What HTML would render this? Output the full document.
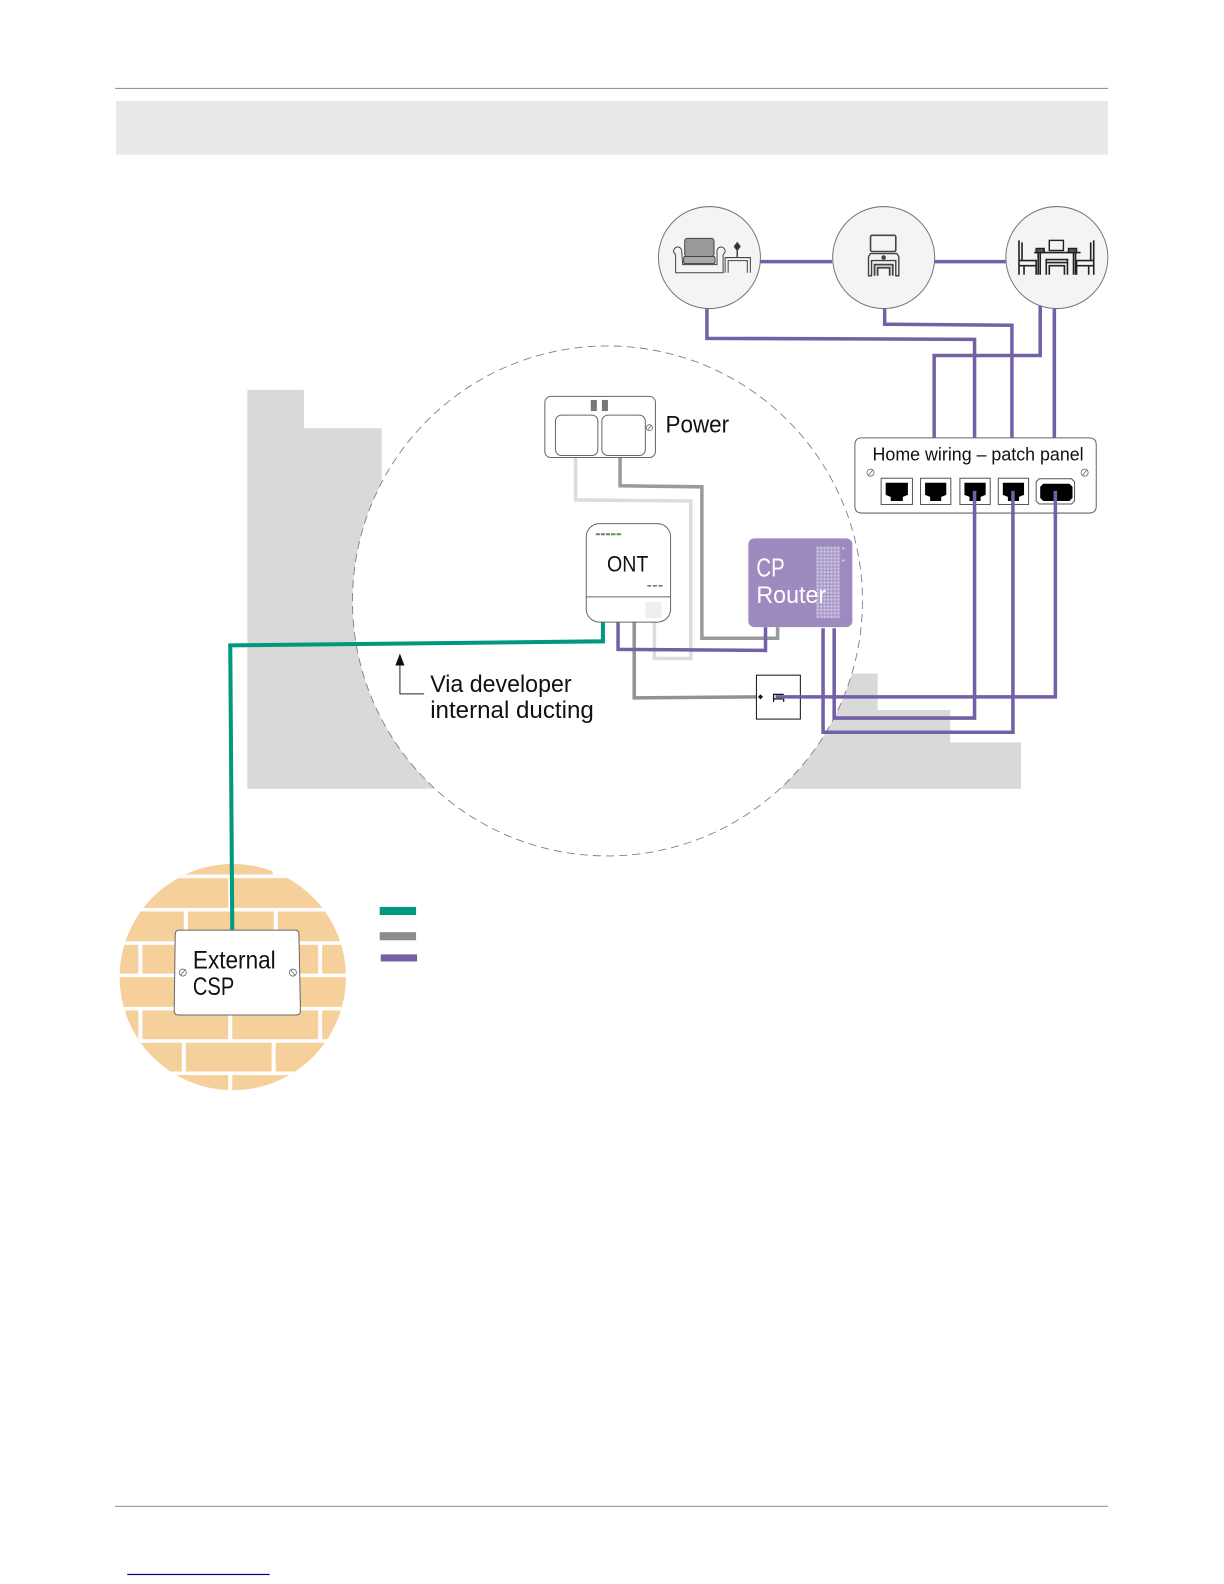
<!DOCTYPE html>
<html><head><meta charset="utf-8"><style>html,body{margin:0;padding:0;background:#fff}svg{display:block}text{font-family:"Liberation Sans",sans-serif;fill:#111}</style></head>
<body>
<svg width="1224" height="1584" viewBox="0 0 1212 1568.4" xmlns="http://www.w3.org/2000/svg">
<defs>
<clipPath id="b"><circle cx="230.5" cy="967.5" r="112"/></clipPath>
<pattern id="dots" x="808" y="541" width="3.4" height="3.4" patternUnits="userSpaceOnUse"><rect width="3.4" height="3.4" fill="#a899c9"/><circle cx="1.7" cy="1.7" r="1.2" fill="#cfc6e2"/></pattern>
</defs>
<rect width="1224" height="1584" fill="#fff"/>
<rect x="114" y="87" width="983" height="1" fill="#8a8a8a"/>
<rect x="115" y="100" width="982" height="53" fill="#e8e8e8"/>
<rect x="114" y="1491" width="983" height="1" fill="#8a8a8a"/>
<rect x="126" y="1558.4" width="141" height="1.2" fill="#000080"/>

<!-- building -->
<path d="M245 386H301V424H378V560H700V667H869V703H941V735H1011V781H245Z" fill="#d9d9d9"/>
<circle cx="601.5" cy="595" r="252.5" fill="#fff" stroke="#808080" stroke-width=".9" stroke-dasharray="8 5"/>

<!-- bricks -->
<g clip-path="url(#b)">
<rect x="115" y="850" width="232" height="235" fill="#f6d09a"/>
<g fill="#fff">
<rect x="115" y="866" width="232" height="3.5"/><rect x="115" y="899" width="232" height="3.5"/><rect x="115" y="932" width="232" height="3.5"/><rect x="115" y="964" width="232" height="3.5"/><rect x="115" y="997" width="232" height="3.5"/><rect x="115" y="1029" width="232" height="3.5"/><rect x="115" y="1061" width="232" height="3.5"/>
<rect x="226" y="867" width="4" height="33"/>
<rect x="182" y="900" width="4" height="33"/><rect x="271" y="900" width="4" height="33"/>
<rect x="137" y="933" width="4" height="32"/><rect x="315" y="933" width="4" height="32"/>
<rect x="137" y="998" width="4" height="32"/><rect x="226" y="998" width="4" height="32"/><rect x="315" y="998" width="4" height="32"/>
<rect x="180" y="1030" width="4" height="32"/><rect x="269" y="1030" width="4" height="32"/>
<rect x="226" y="1062" width="4" height="25"/>
<rect x="270" y="860" width="50" height="8"/>
</g>
</g>

<!-- cables -->
<g fill="none" stroke-width="3.5">
<path d="M570 453V495L684 496V652H648V616" stroke="#dcdcdc"/>
<path d="M614 453V481L695 482V632H770V621" stroke="#9a9a9a"/>
<path d="M628 616V691L749 690" stroke="#929292"/>
<path d="M612 616V643L758 644V621" stroke="#7460a6"/>
<path d="M597 616V635L228 639L230 921" stroke="#00997f" stroke-width="4"/>
<g stroke="#7460a6">
<path d="M752 259H824M925 259H996"/>
<path d="M700 305V335L965 336V433"/>
<path d="M876 305V321L1002 322V433"/>
<path d="M1030 303V352H925V433"/>
<path d="M1044 305V433"/>
<path d="M965 508V711H826V622"/>
<path d="M1003 508V725H815V622"/>
<path d="M1045 508V690H765"/>
</g>
</g>

<!-- arrow -->
<path d="M396 656V687H420" fill="none" stroke="#222" stroke-width="1"/>
<path d="M396 647L391.5 659H400.5Z" fill="#111"/>
<text x="426" y="685" font-size="24" textLength="140" lengthAdjust="spacingAndGlyphs">Via developer</text>
<text x="426" y="711" font-size="24" textLength="162" lengthAdjust="spacingAndGlyphs">internal ducting</text>

<!-- room circles -->
<g fill="#f4f4f4" stroke="#777" stroke-width="1">
<circle cx="702.5" cy="255" r="50.5"/><circle cx="875" cy="255" r="50.5"/><circle cx="1046.5" cy="255" r="50.5"/>
</g>
<!-- sofa -->
<g fill="none" stroke="#444" stroke-width="1">
<rect x="678" y="236" width="29" height="18" rx="2.5" fill="#999"/>
<rect x="677" y="254" width="31" height="7" rx="1.5" fill="#aaa"/>
<path d="M675 249a4 4 0 1 0-6 3V270H716V252a4 4 0 1 0-6-3V262H676Z" fill="#f4f4f4"/>
<path d="M718 270V255H743V270M721 270V258H740V270"/>
<path d="M730 255V248" stroke-width="1.5"/>
<path d="M730 240L733 244L730 248L727 244Z" fill="#333"/>
</g>
<!-- tv -->
<g fill="none" stroke="#444" stroke-width="1.4">
<rect x="862" y="233" width="25" height="16" rx="1.5" stroke-width="1.6"/>
<path d="M860 273V254L862 251H888L890 254V273H887V258H863V273Z"/>
<path d="M866 273V262H884V273M869 273V265H881V273" stroke-width="1.8"/>
<circle cx="875" cy="255" r="1.6" fill="#444"/>
</g>
<!-- dining -->
<g fill="none" stroke="#222" stroke-width="1.4">
<path d="M1009 238V272M1012 240V258M1009 258H1026V272M1014 272V263H1024M1009 263H1026" stroke-width="1.6"/>
<path d="M1083 238V272M1080 240V258M1083 258H1066V272M1078 272V263H1068M1083 263H1066" stroke-width="1.6"/>
<path d="M1024 250H1070M1028 250V272M1030 250V272M1063 250V272M1065 250V272" stroke-width="1.6"/>
<rect x="1039" y="238" width="14" height="10"/>
<path d="M1036 272V257H1057V272M1039 272V263H1054V272M1036 260H1057" stroke-width="1.6"/>
<rect x="1026" y="246" width="8" height="4" fill="#555"/><rect x="1058" y="246" width="8" height="4" fill="#555"/>
</g>

<!-- panel -->
<path d="M853.5 433.5H1078.5Q1085.5 433.5 1085.5 440.5V501Q1085.5 508 1078.5 508H853.5Q846.5 508 846.5 501V440.5Q846.5 433.5 853.5 433.5Z" fill="none" stroke="#666"/>
<text x="864" y="456" font-size="18.5" textLength="209" lengthAdjust="spacingAndGlyphs">Home wiring – patch panel</text>
<g fill="none" stroke="#666" stroke-width=".8">
<circle cx="862" cy="468" r="3.5"/><path d="M860 470.5L864 465.5"/>
<circle cx="1074" cy="468" r="3.5"/><path d="M1072 470.5L1076 465.5"/>
</g>
<g fill="#fff" stroke="#555" stroke-width="1">
<rect x="872.5" y="473.5" width="31" height="26"/><rect x="911.5" y="473.5" width="30" height="26"/><rect x="950.5" y="473.5" width="30" height="26"/><rect x="988.5" y="473.5" width="30" height="26"/>
<path d="M1029 474H1061L1064 477V496L1061 499H1029L1026 496V477Z"/>
</g>
<g fill="#000">
<path d="M877 478H899V490L894 492V496H882V492L877 490Z"/>
<path d="M916 478H937V490L932 492V496H921V492L916 490Z"/>
<path d="M955 478H976V490L971 492V496H960V492L955 490Z"/>
<path d="M993 478H1014V490L1009 492V496H998V492L993 490Z"/>
<path d="M1033 479H1059L1062 482V493L1059 496H1033L1030 493V482Z"/>
</g>
<path d="M965 486V509M1003 486V509M1045 486V509" stroke="#7460a6" stroke-width="3.5"/>

<!-- power -->
<rect x="539.5" y="392.5" width="109.5" height="60.5" rx="6" fill="#fff" stroke="#666"/>
<rect x="550" y="411" width="42" height="40" rx="6" fill="#fff" stroke="#666"/>
<rect x="596" y="411" width="43" height="40" rx="6" fill="#fff" stroke="#666"/>
<rect x="585" y="396" width="6" height="11" fill="#777"/><rect x="596" y="396" width="6" height="11" fill="#777"/>
<circle cx="643" cy="423.5" r="3" fill="none" stroke="#666" stroke-width=".8"/><path d="M641.5 425.5L644.5 421.5" stroke="#666" stroke-width=".8"/>
<text x="659" y="428" font-size="24" textLength="63" lengthAdjust="spacingAndGlyphs">Power</text>

<!-- ONT -->
<rect x="580.5" y="518.5" width="83.5" height="97.5" rx="13" fill="#fff" stroke="#666"/>
<path d="M581 591H664" stroke="#666"/>
<rect x="639" y="596" width="16" height="16" rx="1" fill="#eeeeee"/>
<path d="M590 529H605" stroke="#777" stroke-width="2" stroke-dasharray="4 1"/>
<path d="M605 529H616" stroke="#4a9e3a" stroke-width="2" stroke-dasharray="4.5 1"/>
<path d="M641 580H656" stroke="#777" stroke-width="1.6" stroke-dasharray="4 1.5"/>
<text x="601" y="566" font-size="22" textLength="41" lengthAdjust="spacingAndGlyphs">ONT</text>

<!-- router -->
<rect x="741" y="533" width="103" height="88" rx="6" fill="#9d8bc0"/>
<rect x="808" y="541" width="24" height="71" fill="url(#dots)"/>
<circle cx="835" cy="543" r="1.1" fill="#ddd6ea"/><circle cx="835" cy="555" r="1.1" fill="#ddd6ea"/>
<text x="749" y="571" font-size="26" style="fill:#fff" textLength="28" lengthAdjust="spacingAndGlyphs">CP</text>
<text x="749" y="597" font-size="24" style="fill:#fff" textLength="69" lengthAdjust="spacingAndGlyphs">Router</text>

<!-- wall socket -->
<rect x="749" y="668.5" width="43.5" height="43.5" fill="#fff" stroke="#111" stroke-width="1"/>
<path d="M753 687.5L755.5 690L753 692.5L750.5 690Z" fill="#111"/>
<path d="M766 695V687.5H776M766 692H776M776 692V695" fill="none" stroke="#111" stroke-width="1.2"/>
<path d="M768 690H793" stroke="#7460a6" stroke-width="3.5"/>

<!-- CSP -->
<path d="M178 921H292Q296 921 296 925L297.5 1001Q297.5 1005 293 1005H177Q172.5 1005 172.5 1001L173.5 925Q173.5 921 178 921Z" fill="#fff" stroke="#666"/>
<g fill="none" stroke="#666" stroke-width=".8"><circle cx="181" cy="963" r="3.5"/><path d="M179 965.5L183 960.5"/><circle cx="290" cy="963" r="3.5"/><path d="M288 960.5L292 965.5"/></g>
<text x="191" y="959" font-size="25" textLength="82" lengthAdjust="spacingAndGlyphs">External</text>
<text x="191" y="985" font-size="25" textLength="41" lengthAdjust="spacingAndGlyphs">CSP</text>

<!-- legend -->
<rect x="376" y="898" width="36" height="8" fill="#00997f"/>
<rect x="376" y="923" width="36" height="8" fill="#8c8c8c"/>
<rect x="377" y="945" width="36" height="7" fill="#7460a6"/>
</svg>
</body></html>
